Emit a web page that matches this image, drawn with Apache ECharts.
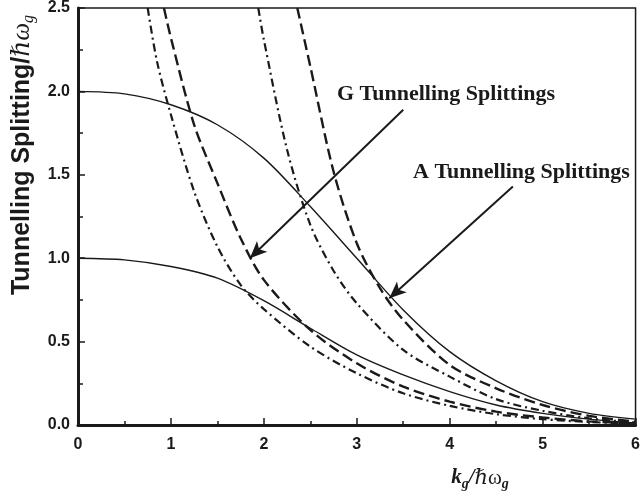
<!DOCTYPE html>
<html>
<head>
<meta charset="utf-8">
<script src="https://cdn.jsdelivr.net/npm/echarts@6/dist/echarts.min.js"></script>
<style>
  html, body { margin: 0; padding: 0; background: #fff; }
  #chart { width: 643px; height: 498px; }
</style>
</head>
<body>
<div id="chart"></div>
<script>
// tick labels
const xTicks = [0, 1, 2, 3, 4, 5, 6];
const yTicks = ['0.0', '0.5', '1.0', '1.5', '2.0', '2.5'];

// curves, [k_g/ħω_g, splitting]
const solidUpper = [[0, 2.0], [0.5, 1.985], [1.0, 1.92], [1.5, 1.80], [2.0, 1.60], [2.5, 1.31], [3.0, 1.0], [3.5, 0.69], [4.0, 0.44], [4.5, 0.265], [5.0, 0.14], [5.5, 0.07], [6, 0.035]];
const solidLower = [[0, 1.0], [0.5, 0.99], [1.0, 0.95], [1.5, 0.88], [2.0, 0.745], [2.5, 0.58], [3.0, 0.42], [3.5, 0.30], [4.0, 0.20], [4.5, 0.12], [5.0, 0.07], [5.5, 0.035], [6, 0.012]];
const dashedLeft = [[0.925, 2.5], [1.0, 2.32], [1.25, 1.80], [1.5, 1.45], [1.75, 1.12], [2.0, 0.87], [2.5, 0.57], [3.0, 0.37], [3.5, 0.23], [4.0, 0.14], [4.5, 0.08], [5.0, 0.045], [5.5, 0.022], [6, 0.01]];
const dashDotLeft = [[0.75, 2.5], [0.85, 2.18], [1.0, 1.86], [1.25, 1.40], [1.5, 1.07], [1.75, 0.84], [2.0, 0.695], [2.5, 0.47], [3.0, 0.31], [3.5, 0.19], [4.0, 0.115], [4.5, 0.065], [5.0, 0.035], [5.5, 0.018], [6, 0.008]];
const dashedRight = [[2.36, 2.5], [2.5, 2.15], [2.75, 1.52], [3.0, 1.09], [3.25, 0.82], [3.5, 0.63], [4.0, 0.36], [4.5, 0.22], [5.0, 0.12], [5.5, 0.055], [6, 0.02]];
const dashDotRight = [[1.94, 2.5], [2.0, 2.31], [2.25, 1.65], [2.5, 1.20], [2.75, 0.925], [3.0, 0.73], [3.5, 0.45], [4.0, 0.29], [4.5, 0.155], [5.0, 0.085], [5.5, 0.04], [6, 0.015]];

// annotation arrows (start -> tip), data coords
const gArrow = [[3.50, 1.89], [1.85, 1.0]];
const aArrow = [[4.68, 1.43], [3.35, 0.76]];

const ink = '#1a1a1a';
const sans = '"Liberation Sans", Arial, sans-serif';
const serif = '"Liberation Serif", "DejaVu Serif", "Times New Roman", serif';

function curve(name, data, type, width) {
  return {
    name: name,
    type: 'line',
    data: data,
    showSymbol: false,
    smooth: 0.3,
    silent: true,
    lineStyle: { color: ink, width: width, type: type }
  };
}

function arrow(pts) {
  return {
    silent: true,
    symbol: ['none', 'arrow'],
    symbolSize: [11, 17],
    label: { show: false },
    lineStyle: { color: ink, width: 2, type: 'solid' },
    data: [[{ coord: pts[0] }, { coord: pts[1] }]]
  };
}

let myChart = echarts.init(document.getElementById('chart'));
let series = [
  curve('solidUpper', solidUpper, 'solid', 1.4),
  curve('solidLower', solidLower, 'solid', 1.4),
  curve('dashedLeft', dashedLeft, [11, 5], 2.4),
  curve('dashDotLeft', dashDotLeft, [8, 4, 2, 4], 2.2),
  curve('dashedRight', dashedRight, [11, 5], 2.4),
  curve('dashDotRight', dashDotRight, [8, 4, 2, 4], 2.2)
];
series[0].markLine = arrow(gArrow);
series[1].markLine = arrow(aArrow);

myChart.setOption({
  animation: false,
  grid: {
    left: 78, right: 1, top: 6, bottom: 73,
    show: true, borderColor: ink, borderWidth: 1.5
  },
  xAxis: {
    type: 'value',
    min: 0, max: 6, interval: 1,
    axisLine: { show: true, lineStyle: { color: ink, width: 3 } },
    axisTick: { show: true, inside: true, length: 7, lineStyle: { color: ink, width: 1.5 } },
    minorTick: { show: true, splitNumber: 2, length: 4, lineStyle: { color: ink, width: 1.5 } },
    splitLine: { show: false },
    axisLabel: {
      margin: 12, color: ink, fontFamily: sans, fontWeight: 'bold', fontSize: 16,
      formatter: v => String(xTicks[Math.round(v)])
    }
  },
  yAxis: {
    type: 'value',
    min: 0, max: 2.5, interval: 0.5,
    axisLine: { show: true, lineStyle: { color: ink, width: 3 } },
    axisTick: { show: true, inside: true, length: 7, lineStyle: { color: ink, width: 1.5 } },
    minorTick: { show: true, splitNumber: 2, length: 5, lineStyle: { color: ink, width: 1.5 } },
    splitLine: { show: false },
    axisLabel: {
      margin: 8, color: ink, fontFamily: sans, fontWeight: 'bold', fontSize: 16,
      formatter: v => yTicks[Math.round(v * 2)]
    }
  },
  graphic: [
    {
      type: 'text', x: 22, y: 155, rotation: Math.PI / 2,
      style: {
        text: '{a|Tunnelling Splitting/}{b|ℏω}{c|g}',
        align: 'center', verticalAlign: 'middle', fill: ink,
        rich: {
          a: { fontFamily: sans, fontWeight: 'bold', fontSize: 25, lineHeight: 30, fill: ink },
          b: { fontFamily: serif, fontStyle: 'italic', fontSize: 25, lineHeight: 30, fill: ink },
          c: { fontFamily: serif, fontStyle: 'italic', fontSize: 16, lineHeight: 13, verticalAlign: 'bottom', fill: ink }
        }
      }
    },
    {
      type: 'text', x: 480, y: 478,
      style: {
        text: '{k|k}{s|g}{k|/}{h|ℏω}{s|g}',
        align: 'center', verticalAlign: 'middle', fill: ink,
        rich: {
          k: { fontFamily: serif, fontStyle: 'italic', fontWeight: 'bold', fontSize: 21, lineHeight: 26, fill: ink },
          h: { fontFamily: serif, fontSize: 21, lineHeight: 26, fill: ink },
          s: { fontFamily: serif, fontStyle: 'italic', fontWeight: 'bold', fontSize: 14, lineHeight: 12, verticalAlign: 'bottom', fill: ink }
        }
      }
    },
    {
      type: 'text', x: 337, y: 94,
      style: {
        text: 'G Tunnelling Splittings', align: 'left', verticalAlign: 'middle',
        fontFamily: serif, fontWeight: 'bold', fontSize: 22, fill: ink
      }
    },
    {
      type: 'text', x: 413, y: 172,
      style: {
        text: 'A Tunnelling Splittings', align: 'left', verticalAlign: 'middle',
        fontFamily: serif, fontWeight: 'bold', fontSize: 22, fill: ink
      }
    }
  ],
  series: series
});
</script>
</body>
</html>
